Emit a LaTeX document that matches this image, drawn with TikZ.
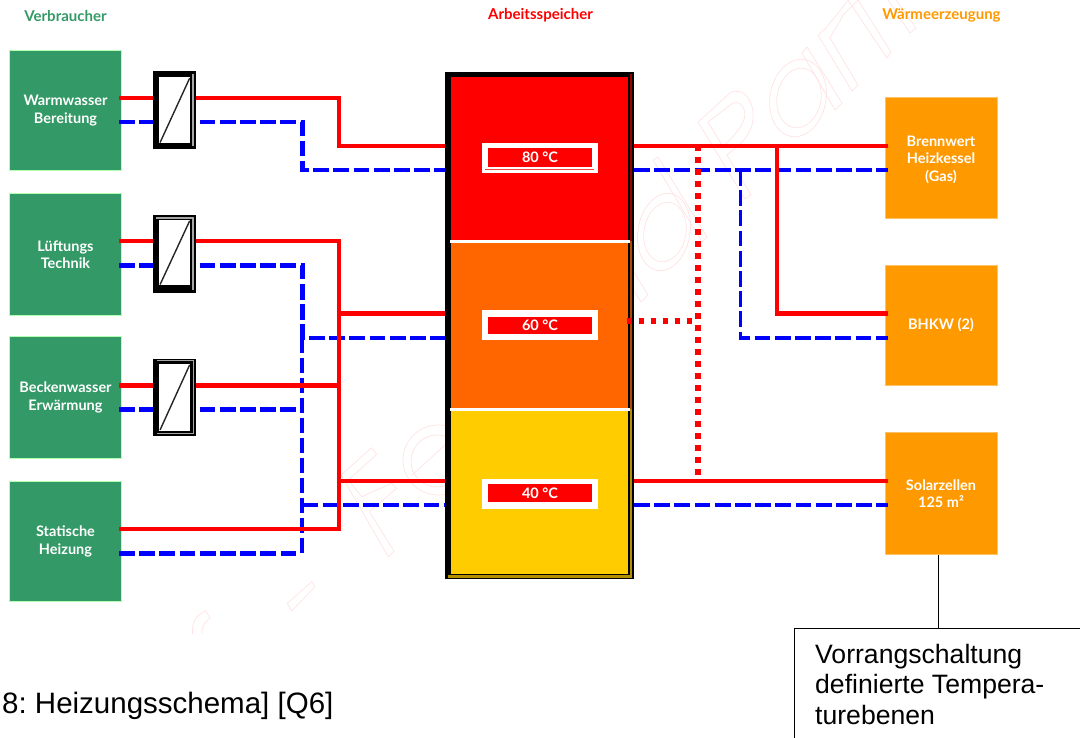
\documentclass[tikz,border=0pt]{standalone}
\usepackage{fontspec}
\setmainfont{Liberation Sans}
\newfontfamily\boxfont{Lato}
\frenchspacing
\tikzset{
  consumer/.style={draw=green!30!white,line width=.5pt,fill=myGreen,text=white,inner sep=0pt,minimum width=112pt,font=\boxtext,align=center},
  producer/.style={draw=myOrange!60!white,line width=.5pt,fill=myOrange,text=white,inner sep=0pt,minimum width=112pt,font=\boxtext,align=center},
  exch/.style={fill=black,inner sep=0pt,minimum width=43.3pt},
  exchin/.style={fill=white,inner sep=0pt,minimum width=30.7pt},
  hot/.style={draw=red,line width=4.4pt,line join=miter},
  cold/.style={draw=blue,line width=4.4pt,dash pattern=on 15.8pt off 4.4pt},
  dots/.style={draw=red,line width=5.4pt,dash pattern=on 5.4pt off 6.6pt},
  wm/.style={draw=myPink,line width=.7pt,line join=round},
  heading/.style={font=\headtext,inner sep=0pt},
  tagframe/.style={fill=white,inner sep=0pt,minimum width=115.4pt,minimum height=30pt},
  tagbox/.style={fill=red,text=white,inner sep=0pt,minimum width=103.4pt,font=\boxtext},
  zone/.style={inner sep=0pt,minimum width=177pt},
  plain/.style={inner sep=0pt,align=left,anchor=base west}
}
\definecolor{myGreen}{HTML}{339966}
\definecolor{myOrange}{HTML}{FF9900}
\definecolor{myDeep}{HTML}{FF6600}
\definecolor{myGold}{HTML}{FFCC00}
\definecolor{myPink}{HTML}{FFE2E2}
\newcommand{\boxtext}{\boxfont\bfseries\fontsize{14.5}{17.4}\selectfont}
\newcommand{\headtext}{\boxfont\bfseries\fontsize{15}{17}\selectfont}
\begin{document}
\begin{tikzpicture}[x=1pt,y=-1pt]
\useasboundingbox (0,0) rectangle (1080,737);
\clip (0,0) rectangle (1080,737);
% watermark
\begin{scope}
\clip (0,0) rectangle (1080,633);
\draw[wm] (341,475) -- (371.7,447.7) -- (376.7,454.3) -- (348.3,480) -- (361.7,496.7) -- (391.7,483.3) -- (396.7,488.3) -- (369.3,511.7) -- (394,551) -- (388.3,556.7) -- cycle;
\draw[wm] (287.3,603.3) -- (311.7,581.7) -- (315,586.7) -- (291.7,611) -- cycle;
\draw[wm] (206,610.7) .. controls (196,615) and (190,623) .. (193.3,640) -- (203.3,640) .. controls (200,630) and (203,623) .. (210,618.3) -- cycle;
\begin{scope}
\clip (395,420) rectangle (446,500);
\draw[wm] (438,460) circle[radius=35];
\draw[wm] (437,461) circle[radius=26];
\draw[wm] (412,475) -- (445,445);
\end{scope}
\draw[wm] (664,232) circle[x radius=26,y radius=39,rotate=-10];
\draw[wm] (665,232) circle[x radius=21,y radius=30,rotate=-10];
\draw[wm] (653,160) -- (658,157) -- (707,237) -- (702,242) -- cycle;
\draw[wm] (634,272) -- (648,295) -- (641,302) -- (634,291);
\draw[wm] (745,199) -- (698,122) -- (730,93) .. controls (745,85) and (757,105) .. (752,125) .. controls (748,140) and (735,148) .. (727,155) -- (751,195) -- cycle;
\draw[wm] (708,122) -- (733,103) .. controls (742,100) and (748,112) .. (743,122) .. controls (740,130) and (733,136) .. (723,147) -- cycle;
\draw[wm] (798,98) circle[x radius=28,y radius=39,rotate=-10];
\draw[wm] (799,98) circle[x radius=22,y radius=30,rotate=-10];
\draw[wm] (802,53) -- (807,47) -- (842,103) -- (835,110) -- cycle;
\draw[wm] (818,35) -- (852,91) -- (858,85) -- (830,38) .. controls (835,28) and (840,22) .. (843,15) -- (863,-5);
\draw[wm] (818,35) -- (826,28) .. controls (830,22) and (838,14) .. (842,8) -- (852,-5);
\draw[wm] (848,0) -- (887,58) -- (891,52) -- (858,0);
\draw[wm] (888,0) -- (910,33) -- (916,28) -- (896,0);
\end{scope}
% consumers
\node[consumer,minimum height=120.3pt] (g1) at (65.5,110.2) {};
\node[consumer,minimum height=121.7pt] (g2) at (65.5,254.2) {};
\node[consumer,minimum height=121.7pt] (g3) at (65.5,397.5) {};
\node[consumer,minimum height=120.7pt] (g4) at (65.5,541.3) {};
% producers
\node[producer,minimum height=121.3pt] (p1) at (941.3,157.7) {};
\node[producer,minimum height=120pt] (p2) at (941.3,325.7) {};
\node[producer,minimum height=121.6pt] (p3) at (941.3,493.5) {};
% exchangers (outer anchors)
\node[exch,minimum height=77.4pt] (x1) at (174.35,110) {};
\node[exch,minimum height=78.3pt] (x2) at (174.35,254.15) {};
\node[exch,minimum height=77.3pt] (x3) at (174.35,397.35) {};
% tank anchor
\node[fill=black,inner sep=0pt,minimum width=188.4pt,minimum height=507.8pt] (tank) at (539.5,325.4) {};
% junction coordinates
\coordinate (bx) at (302.3,0);
\coordinate (rx) at (339,0);
\coordinate (rb) at (777,0);
\coordinate (bb) at (740.5,0);
\coordinate (dx) at (697.8,0);
% cold lines
\draw[cold] ([xshift=-2.7pt]g1.east |- 0,122) -- (x1.west |- 0,122);
\draw[cold] ([xshift=3.4pt]x1.east |- 0,122) -- (bx |- 0,122) -- (bx |- 0,170) -- (tank.west |- 0,170);
\draw[cold] ([xshift=-2.7pt]g2.east |- 0,265.3) -- (x2.west |- 0,265.3);
\draw[cold] ([xshift=3.4pt]x2.east |- 0,265.3) -- (bx |- 0,265.3) -- (bx |- 0,337.7) -- (tank.west |- 0,337.7);
\draw[cold] ([xshift=-2.7pt]g3.east |- 0,409.3) -- (x3.west |- 0,409.3);
\draw[cold] ([xshift=3.4pt]x3.east |- 0,409.3) -- ([xshift=-6pt]bx |- 0,409.3);
\draw[cold,line width=3.8pt,dash pattern=on 15pt off 5pt] (bx |- 0,337.7) -- (bx |- 0,556);
\draw[cold] (bx |- 0,505) -- (tank.west |- 0,505);
\draw[cold] ([xshift=-2.7pt]g4.east |- 0,553.3) -- ([xshift=-6pt]bx |- 0,553.3);
\draw[cold] (tank.east |- 0,170) -- ([xshift=2.6pt]p1.west |- 0,170);
\draw[cold,line width=3.8pt] (bb |- 0,170) -- (bb |- 0,337.7) -- ([xshift=2.6pt]p2.west |- 0,337.7);
\draw[cold] (tank.east |- 0,505) -- ([xshift=2.6pt]p3.west |- 0,505);
% hot lines
\draw[hot] ([xshift=-2.7pt]g1.east |- 0,98) -- (x1.west |- 0,98);
\draw[hot] (x1.east |- 0,98) -- (rx |- 0,98) -- (rx |- 0,146) -- (tank.west |- 0,146);
\draw[hot] ([xshift=-2.7pt]g2.east |- 0,241) -- (x2.west |- 0,241);
\draw[hot] (x2.east |- 0,241) -- (rx |- 0,241) -- (rx |- 0,529) -- ([xshift=-2.7pt]g4.east |- 0,529);
\draw[hot] ([xshift=-2.7pt]g3.east |- 0,385.3) -- (x3.west |- 0,385.3);
\draw[hot] (x3.east |- 0,385.3) -- (rx |- 0,385.3);
\draw[hot] (rx |- 0,313.5) -- (tank.west |- 0,313.5);
\draw[hot] (rx |- 0,481) -- (tank.west |- 0,481);
\draw[hot] (tank.east |- 0,146) -- ([xshift=2.6pt]p1.west |- 0,146);
\draw[hot] (rb |- 0,146) -- (rb |- 0,313.5) -- ([xshift=2.6pt]p2.west |- 0,313.5);
\draw[hot] (tank.east |- 0,481) -- ([xshift=2.6pt]p3.west |- 0,481);
% exchangers redrawn on top
\node[exch,minimum height=77.4pt] (x1t) at (x1) {};
\node[exch,minimum height=78.3pt] (x2t) at (x2) {};
\node[exch,minimum height=77.3pt] (x3t) at (x3) {};
\fill[gray!70] (192.3,74) rectangle (194,146);
\fill[gray!70] (156,217.4) rectangle (194,218.6);
\fill[gray!70] (192.3,217.4) rectangle (194,290);
\draw[gray!70,line width=1pt] (157,360.8) -- (193.6,360.8) -- (193.6,433.2) -- (157,433.2);
\node[exchin,minimum height=66pt] (i1) at (174.65,110.3) {};
\node[exchin,minimum height=65.3pt] (i2) at (174.65,252.65) {};
\node[exchin,minimum height=66.7pt] (i3) at (174.65,397.35) {};
\draw[black!85,line width=1.4pt] (i1.south west) ++(1,-1) -- ([shift={(-.5,1)}]i1.north east);
\draw[black!85,line width=1.4pt] (i2.south west) ++(1,-1) -- ([shift={(-.5,1)}]i2.north east);
\draw[black!85,line width=1.4pt] (i3.south west) ++(1,-1) -- ([shift={(-.5,1)}]i3.north east);
% tank
\node[fill=black,inner sep=0pt,minimum width=188.4pt,minimum height=507.8pt] (tankt) at (tank) {};
\fill[red!60!black] (630.3,74) rectangle (632,241);
\fill[myDeep!70!black] (630.3,241) rectangle (632,409);
\fill[myGold!70!black] (630.3,409) rectangle (632,577.5);
\fill[myGold!70!black] (448,575) rectangle (632,577.5);
\node[zone,fill=red,minimum height=164pt] (z1) at (539.7,159.3) {};
\node[zone,fill=myDeep,minimum height=168pt] (z2) at (539.7,325.3) {};
\node[zone,fill=myGold,minimum height=164.5pt] (z3) at (539.7,491.3) {};
\fill[white] (450,240.3) rectangle (629.5,243);
\fill[white] (450,407.6) rectangle (629.5,411);
% temperature tags
\node[tagframe] (f1) at (540,157.7) {};
\node[tagframe] (f2) at (540,325) {};
\node[tagframe] (f3) at (540,493.5) {};
\fill[red!75!white] (485,169.3) rectangle (594,170.3);
\node[tagbox,minimum height=18.4pt] (t1) at (540,157.5) {80 °C};
\node[tagbox,minimum height=16.7pt] (t2) at (540,325.7) {60 °C};
\node[tagbox,minimum height=17.4pt] (t3) at (540,493) {40 °C};
% dotted lines
\draw[dots] (dx |- 0,145.3) -- (dx |- 0,475);
\draw[dots] ([xshift=-7.4pt]tank.east |- 0,321) -- ([xshift=-5.8pt]dx |- 0,321);
% box texts
\node[consumer,draw=none,fill=none,minimum height=0pt] (tg1) at (65.5,110.5) {Warmwasser\\Bereitung};
\node[consumer,draw=none,fill=none,minimum height=0pt] (tg2) at (65.5,254.5) {Lüftungs\\Technik};
\node[consumer,draw=none,fill=none,minimum height=0pt] (tg3) at (65.5,397.5) {Beckenwasser\\Erwärmung};
\node[consumer,draw=none,fill=none,minimum height=0pt] (tg4) at (65.5,541.5) {Statische\\Heizung};
\node[producer,draw=none,fill=none,minimum height=0pt] (tp1) at (941,159.5) {Brennwert\\Heizkessel\\(Gas)};
\node[producer,draw=none,fill=none,minimum height=0pt] (tp2) at (941,325) {BHKW (2)};
\node[producer,draw=none,fill=none,minimum height=0pt] (tp3) at (941,493.5) {Solarzellen\\125 m²};
% headings
\node[heading,text=myGreen] (h1) at (65.5,15.5) {Verbraucher};
\node[heading,text=red] (h2) at (540.5,15.5) {Arbeitsspeicher};
\node[heading,text=myOrange] (h3) at (941.5,15.5) {Wärmeerzeugung};
% callout
\node[draw=black,line width=1.3pt,fill=white,anchor=north west,minimum width=400pt,minimum height=200pt,inner sep=0pt] (note) at (794,627.5) {};
\coordinate (tap) at (938.3,0);
\draw[black,line width=1.3pt] (p3.south -| tap) -- (note.north -| tap);
\node[plain,font=\fontsize{26.6}{30.5}\selectfont] (notetxt) at (815,724) {Vorrangschaltung\\definierte Tempera-\\turebenen};
\node[plain,font=\fontsize{29.5}{32}\selectfont] (cap) at (2,713) {8: Heizungsschema] [Q6]};
\end{tikzpicture}
\end{document}
